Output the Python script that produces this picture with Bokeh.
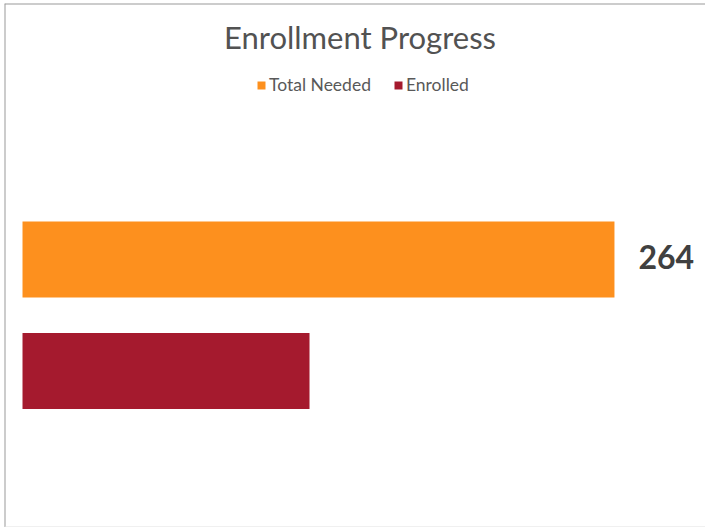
from bokeh.plotting import figure
from bokeh.models import ColumnDataSource, Range1d, Label, Legend, LegendItem, Span
from bokeh.embed import file_html
from bokeh.resources import INLINE
from bokeh.core.properties import value

# ---- data ----
categories = ["Total Needed", "Enrolled"]
counts = [264, 128]
colors = ["#FD901E", "#A51A2E"]
positions = [1, 0]
chart_title = "Enrollment Progress"
labelled = [True, False]

src = ColumnDataSource(dict(series=categories, count=counts, color=colors, pos=positions))
lab_src = ColumnDataSource(dict(
    x=[c for c, l in zip(counts, labelled) if l],
    y=[p_ for p_, l in zip(positions, labelled) if l],
    text=[str(c) for c, l in zip(counts, labelled) if l],
))

xr = Range1d(-8.03, 304.6)
yr = Range1d(-1.404, 3.296)
p = figure(width=705, height=527, output_backend="svg", toolbar_location=None,
           x_range=xr, y_range=yr,
           x_axis_location=None, y_axis_location=None,
           min_border_left=4, min_border_top=3, min_border_right=0, min_border_bottom=0)
p.xgrid.visible = False
p.ygrid.visible = False
p.outline_line_color = None
p.background_fill_color = "white"
p.border_fill_color = "white"

# frame edges (top and left darker, bottom faint)
p.add_layout(Span(location=yr.end, dimension="width", line_color="#9a9a9a", line_width=2))
p.add_layout(Span(location=xr.start, dimension="height", line_color="#9a9a9a", line_width=2))
p.add_layout(Span(location=yr.start, dimension="width", line_color="#e2e2e2", line_width=2))

r = p.hbar(y="pos", left=0, right="count", height=0.68, fill_color="color",
           line_color=None, source=src)

p.text(x="x", y="y", text="text", source=lab_src, x_offset=24, y_offset=-2,
       text_baseline="middle", text_align="left",
       text_font=value("Lato"), text_font_style="bold",
       text_font_size="32px", text_color="#404040")

title = Label(x=355.5, y=491, x_units="screen", y_units="screen", text=chart_title,
              text_align="center", text_baseline="alphabetic",
              text_font="Lato", text_font_size="31px", text_color="#525252")
p.add_layout(title)

legend = Legend(items=[LegendItem(label=categories[i], renderers=[r], index=i) for i in range(len(categories))],
                orientation="horizontal", location=(252, 432),
                glyph_width=10, glyph_height=10, label_height=20, label_standoff=3,
                spacing=22, padding=0, margin=0,
                border_line_color=None, background_fill_alpha=0,
                label_text_font="Lato", label_text_font_size="17.5px", label_text_color="#595959")
p.add_layout(legend)

open("out.html", "w").write(file_html(p, INLINE))
